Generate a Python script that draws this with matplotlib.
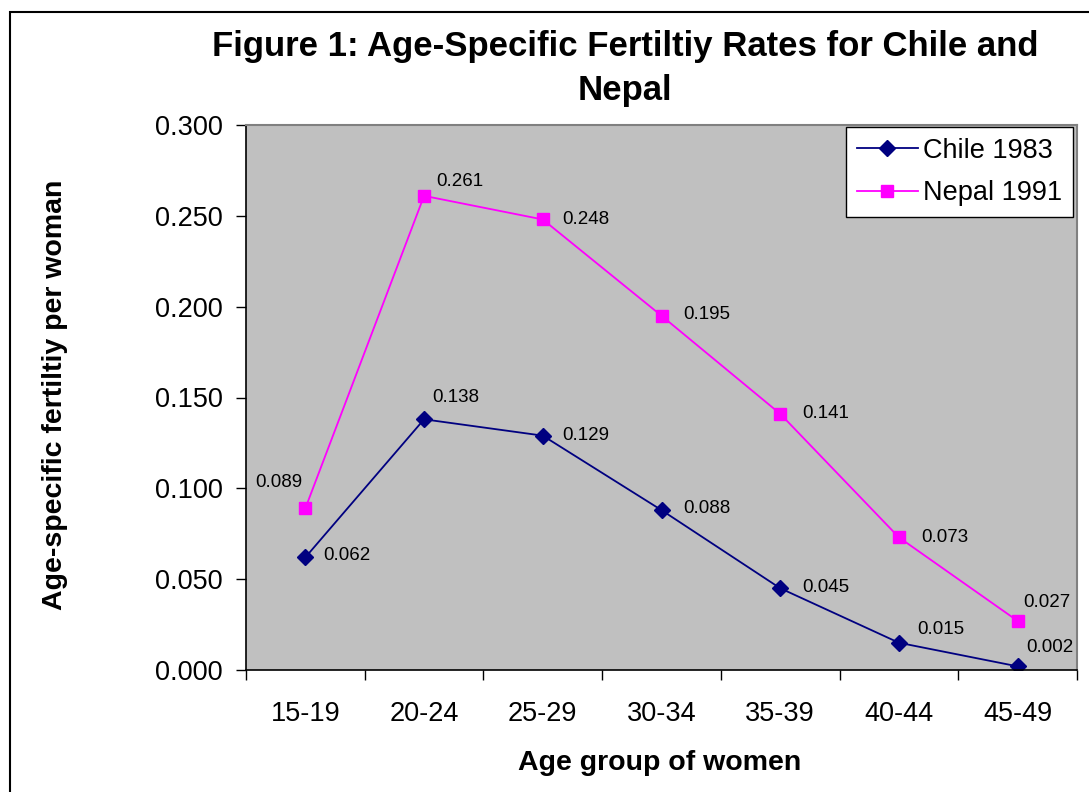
import matplotlib
matplotlib.use('Agg')
import matplotlib.pyplot as plt
from matplotlib.patches import Rectangle
from matplotlib.ticker import FixedLocator, NullFormatter, FixedFormatter

# ── Data ──────────────────────────────────────────────────────────────────────
age_groups = ['15-19', '20-24', '25-29', '30-34', '35-39', '40-44', '45-49']
chile_1983 = [0.062, 0.138, 0.129, 0.088, 0.045, 0.015, 0.002]
nepal_1991 = [0.089, 0.261, 0.248, 0.195, 0.141, 0.073, 0.027]
y_ticks = [0.0, 0.05, 0.10, 0.15, 0.20, 0.25, 0.30]

# label offsets in pixels (dx, dy, ha)
CHILE_OFF = [(18, 2, 'left'), (8, 22, 'left'), (19, 0, 'left'), (22, 2, 'left'),
             (22, 1, 'left'), (18, 13, 'left'), (9, 19, 'left')]
NEPAL_OFF = [(-3, 26, 'right'), (12, 14, 'left'), (19, 0, 'left'), (22, 1, 'left'),
             (22, 0, 'left'), (22, 0, 'left'), (6, 18, 'left')]

plt.rcParams.update({
    'font.family': ['Liberation Sans', 'DejaVu Sans'],
})

fig = plt.figure(figsize=(10.89, 7.92), dpi=100)
ax = fig.add_axes([246 / 1089, 1 - 670 / 792, (1077 - 246) / 1089, (670 - 125) / 792])
ax.set_facecolor('#C0C0C0')

x = list(range(len(age_groups)))
ax.plot(x, chile_1983, color='#000080', linewidth=1.3, marker='D', markersize=8.5,
        label='Chile 1983')
ax.plot(x, nepal_1991, color='#FF00FF', linewidth=1.3, marker='s', markersize=8.5,
        label='Nepal 1991')

for xi, v, (dx, dy, ha) in zip(x, chile_1983, CHILE_OFF):
    ax.annotate(f'{v:.3f}', (xi, v), xytext=(dx, dy), textcoords='offset pixels',
                ha=ha, va='center', fontsize=13.5)
for xi, v, (dx, dy, ha) in zip(x, nepal_1991, NEPAL_OFF):
    ax.annotate(f'{v:.3f}', (xi, v), xytext=(dx, dy), textcoords='offset pixels',
                ha=ha, va='center', fontsize=13.5)

ax.set_xlim(-0.5, len(age_groups) - 0.5)
ax.set_ylim(0, 0.3)
ax.set_yticks(y_ticks)
ax.set_yticklabels([f'{t:.3f}' for t in y_ticks])

# category boundaries carry the tick marks, centres carry the labels
ax.xaxis.set_major_locator(FixedLocator([i - 0.5 for i in range(len(age_groups) + 1)]))
ax.xaxis.set_major_formatter(NullFormatter())
ax.xaxis.set_minor_locator(FixedLocator(x))
ax.xaxis.set_minor_formatter(FixedFormatter(age_groups))
ax.tick_params(axis='x', which='major', length=7, width=1, direction='out')
ax.tick_params(axis='x', which='minor', length=0, pad=22, labelsize=19.5)
ax.tick_params(axis='y', length=7, width=1, direction='out', pad=10, labelsize=19.5)

for s in ['top', 'right']:
    ax.spines[s].set_color('#808080')
    ax.spines[s].set_linewidth(1.5)
for s in ['left', 'bottom']:
    ax.spines[s].set_color('black')
    ax.spines[s].set_linewidth(1.2)

ax.set_xlabel('Age group of women', fontsize=20.5, fontweight='bold')
ax.set_ylabel('Age-specific fertiltiy per woman', fontsize=20.5, fontweight='bold')
ax.xaxis.set_label_coords((660 - 246) / 831, -(763 - 670) / 545)
ax.yaxis.set_label_coords((55 - 246) / 831, (670 - 395) / 545)
ax.xaxis.label.set_va('center')
ax.yaxis.label.set_va('center')

leg = ax.legend(loc='upper right', bbox_to_anchor=(1.0 - 4 / 831, 1.0 - 2 / 545),
                fontsize=19.5, frameon=True, fancybox=False, edgecolor='black',
                framealpha=1, borderpad=0.4, handlelength=2.25, handletextpad=0.2,
                labelspacing=0.6, borderaxespad=0)
leg.get_frame().set_linewidth(1.0)

fig.text(625 / 1089, 1 - 68.5 / 792,
         'Figure 1: Age-Specific Fertiltiy Rates for Chile and\nNepal',
         ha='center', va='center', fontsize=25, fontweight='bold', linespacing=1.45)

# outer chart frame
fig.patches.append(Rectangle((10 / 1089, -0.1), 1.2, 1 - 12 / 792 + 0.1,
                             transform=fig.transFigure, fill=False,
                             edgecolor='black', linewidth=1.5))

fig.savefig('out.png', dpi=100)
